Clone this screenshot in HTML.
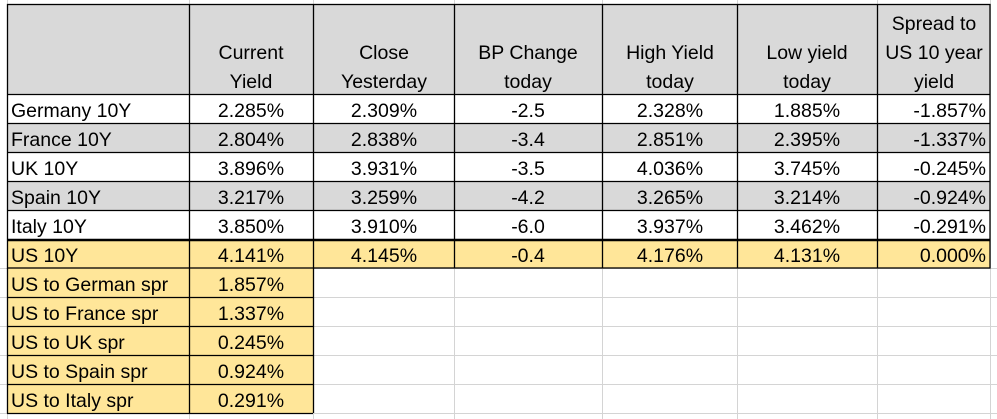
<!DOCTYPE html>
<html><head><meta charset="utf-8"><style>
html,body{margin:0;padding:0;background:#fff;}
svg{display:block;}
text{font-family:"Liberation Sans",sans-serif;font-size:19.5px;fill:#000;}
</style></head><body>
<svg width="997" height="419" xmlns="http://www.w3.org/2000/svg">
<g stroke="#d4d4d4" stroke-width="1">
<line x1="7.5" y1="0" x2="7.5" y2="419"/>
<line x1="189.5" y1="0" x2="189.5" y2="419"/>
<line x1="313.5" y1="0" x2="313.5" y2="419"/>
<line x1="454.5" y1="0" x2="454.5" y2="419"/>
<line x1="602.5" y1="0" x2="602.5" y2="419"/>
<line x1="737.5" y1="0" x2="737.5" y2="419"/>
<line x1="877.5" y1="0" x2="877.5" y2="419"/>
<line x1="990.5" y1="0" x2="990.5" y2="419"/>
<line x1="0" y1="297.5" x2="997" y2="297.5"/>
<line x1="0" y1="326.5" x2="997" y2="326.5"/>
<line x1="0" y1="355.5" x2="997" y2="355.5"/>
<line x1="0" y1="384.5" x2="997" y2="384.5"/>
<line x1="0" y1="413.5" x2="997" y2="413.5"/>
<line x1="0" y1="268.5" x2="997" y2="268.5"/>
</g>
<rect x="7" y="4" width="983" height="90" fill="#d9d9d9"/>
<rect x="7" y="123" width="983" height="29" fill="#d9d9d9"/>
<rect x="7" y="181" width="983" height="29" fill="#d9d9d9"/>
<rect x="7" y="239" width="983" height="29" fill="#ffe699"/>
<rect x="7" y="268" width="306" height="145" fill="#ffe699"/>
<g stroke="#000" stroke-width="1.3" fill="none">
<rect x="7.5" y="4.5" width="982.5" height="263.5"/>
<line x1="7" y1="94.5" x2="990" y2="94.5"/>
<line x1="7" y1="123.5" x2="990" y2="123.5"/>
<line x1="7" y1="152.5" x2="990" y2="152.5"/>
<line x1="7" y1="181.5" x2="990" y2="181.5"/>
<line x1="7" y1="210.5" x2="990" y2="210.5"/>
<line x1="7" y1="240" x2="990" y2="240" stroke-width="2.5"/>
<line x1="189.5" y1="4" x2="189.5" y2="413"/>
<line x1="313.5" y1="4" x2="313.5" y2="413"/>
<line x1="454.5" y1="4" x2="454.5" y2="268"/>
<line x1="602.5" y1="4" x2="602.5" y2="268"/>
<line x1="737.5" y1="4" x2="737.5" y2="268"/>
<line x1="877.5" y1="4" x2="877.5" y2="268"/>
<line x1="7.5" y1="268" x2="7.5" y2="413.5"/>
<line x1="7" y1="297.5" x2="313" y2="297.5"/>
<line x1="7" y1="326.5" x2="313" y2="326.5"/>
<line x1="7" y1="355.5" x2="313" y2="355.5"/>
<line x1="7" y1="384.5" x2="313" y2="384.5"/>
<line x1="7" y1="413.5" x2="313" y2="413.5"/>
</g>
<g text-anchor="middle">
<text x="251" y="59">Current</text><text x="251" y="88">Yield</text>
<text x="384" y="59">Close</text><text x="384" y="88">Yesterday</text>
<text x="528" y="59">BP Change</text><text x="528" y="88">today</text>
<text x="670" y="59">High Yield</text><text x="670" y="88">today</text>
<text x="807" y="59">Low yield</text><text x="807" y="88">today</text>
<text x="934" y="30">Spread to</text><text x="934" y="59">US 10 year</text><text x="934" y="88">yield</text>
</g>
<g>
<text x="11" y="117">Germany 10Y</text>
<text x="11" y="146">France 10Y</text>
<text x="11" y="175">UK 10Y</text>
<text x="11" y="204">Spain 10Y</text>
<text x="11" y="233">Italy 10Y</text>
<text x="11" y="262">US 10Y</text>
<text x="11" y="291">US to German spr</text>
<text x="11" y="320">US to France spr</text>
<text x="11" y="349">US to UK spr</text>
<text x="11" y="378">US to Spain spr</text>
<text x="11" y="407">US to Italy spr</text>
</g>
<g text-anchor="middle">
<text x="251" y="117">2.285%</text><text x="384" y="117">2.309%</text><text x="528" y="117">-2.5</text><text x="670" y="117">2.328%</text><text x="807" y="117">1.885%</text>
<text x="251" y="146">2.804%</text><text x="384" y="146">2.838%</text><text x="528" y="146">-3.4</text><text x="670" y="146">2.851%</text><text x="807" y="146">2.395%</text>
<text x="251" y="175">3.896%</text><text x="384" y="175">3.931%</text><text x="528" y="175">-3.5</text><text x="670" y="175">4.036%</text><text x="807" y="175">3.745%</text>
<text x="251" y="204">3.217%</text><text x="384" y="204">3.259%</text><text x="528" y="204">-4.2</text><text x="670" y="204">3.265%</text><text x="807" y="204">3.214%</text>
<text x="251" y="233">3.850%</text><text x="384" y="233">3.910%</text><text x="528" y="233">-6.0</text><text x="670" y="233">3.937%</text><text x="807" y="233">3.462%</text>
<text x="251" y="262">4.141%</text><text x="384" y="262">4.145%</text><text x="528" y="262">-0.4</text><text x="670" y="262">4.176%</text><text x="807" y="262">4.131%</text>
<text x="251" y="291">1.857%</text>
<text x="251" y="320">1.337%</text>
<text x="251" y="349">0.245%</text>
<text x="251" y="378">0.924%</text>
<text x="251" y="407">0.291%</text>
</g>
<g text-anchor="end">
<text x="986" y="117">-1.857%</text>
<text x="986" y="146">-1.337%</text>
<text x="986" y="175">-0.245%</text>
<text x="986" y="204">-0.924%</text>
<text x="986" y="233">-0.291%</text>
<text x="986" y="262">0.000%</text>
</g>
</svg>
</body></html>
